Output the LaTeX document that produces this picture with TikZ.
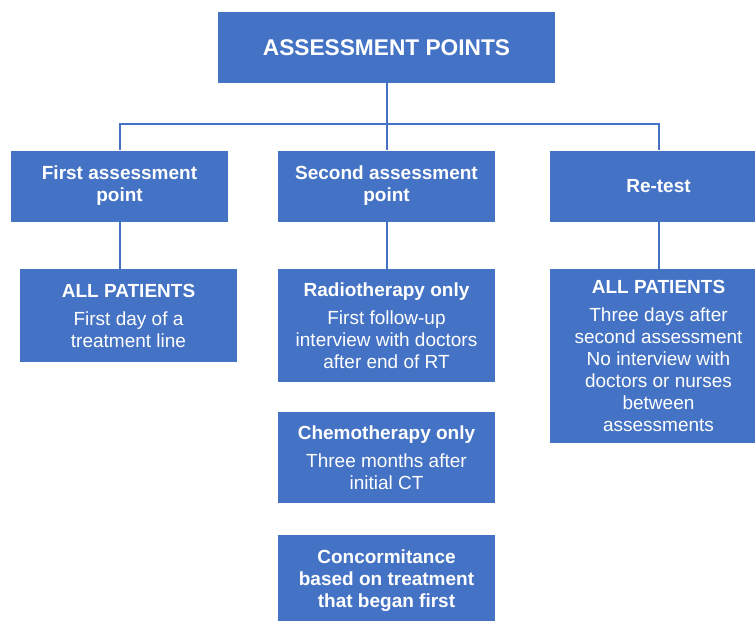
\documentclass[tikz,border=0pt]{standalone}
\usepackage{fontspec}
\setmainfont{Liberation Sans}
\definecolor{boxblue}{HTML}{4472C4}
\begin{document}
\begin{tikzpicture}[x=1pt,y=-1pt,
  box/.style={fill=boxblue,draw=none,text=white,inner sep=0pt,align=center,
    font=\fontsize{19}{22}\selectfont},
  conn/.style={draw=boxblue,line width=2pt}]
\useasboundingbox (0,0) rectangle (755,621);
\clip (0,0) rectangle (755,621);
% boxes
\node[box,minimum width=337pt,minimum height=71pt,font=\fontsize{22.7}{26}\selectfont\bfseries] (title) at (386.5,47.5) {ASSESSMENT POINTS};
\node[box,minimum width=217pt,minimum height=71pt,font=\fontsize{19}{22}\selectfont\bfseries] (first) at (119.5,186) {First assessment\\point};
\node[box,minimum width=217pt,minimum height=71pt,font=\fontsize{19}{22}\selectfont\bfseries] (second) at (386.5,186) {Second assessment\\point};
\node[box,minimum width=217pt,minimum height=71pt,font=\fontsize{19}{22}\selectfont\bfseries] (retest) at (658.5,186) {Re-test};
\node[box,minimum width=217pt,minimum height=93pt] (allp1) at (128.5,315.5) {\textbf{ALL PATIENTS}\\[6pt]First day of a\\treatment line};
\node[box,minimum width=217pt,minimum height=113pt] (radio) at (386.5,325.5) {\textbf{Radiotherapy only}\\[6pt]First follow-up\\interview with doctors\\after end of RT};
\node[box,minimum width=217pt,minimum height=174pt] (allp2) at (658.5,356) {\textbf{ALL PATIENTS}\\[6pt]Three days after\\second assessment\\No interview with\\doctors or nurses\\between\\assessments};
\node[box,minimum width=217pt,minimum height=91pt] (chemo) at (386.5,457.5) {\textbf{Chemotherapy only}\\[6pt]Three months after\\initial CT};
\node[box,minimum width=217pt,minimum height=92pt,font=\fontsize{19}{22}\selectfont\bfseries] (conc) at (386.5,581) {Concormitance\\based on treatment\\that began first};
% connectors
\coordinate (bus) at (386.5,123.5);
\draw[conn] (title.south) -- (second.north);
\draw[conn] (first.north) -- (first.north |- bus) -| (retest.north);
\draw[conn] (first.south) -- (first.south |- allp1.north);
\draw[conn] (second.south) -- (radio.north);
\draw[conn] (retest.south) -- (allp2.north);
\end{tikzpicture}
\end{document}
